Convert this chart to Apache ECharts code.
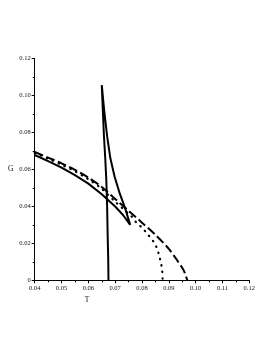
<!DOCTYPE html>
<html><head><meta charset="utf-8">
<script src="https://cdn.jsdelivr.net/npm/echarts@6/dist/echarts.min.js"></script>
<style>html,body{margin:0;padding:0;background:#fff}#c{width:273px;height:353px}</style>
</head><body><div id="c"></div>
<script>
// Solid curve (swallowtail): lower branch -> cusp -> upper branch -> near-vertical branch
const solidT = [0.0400,0.0450,0.0500,0.0550,0.0600,0.0650,0.0700,0.0730,0.0756,0.0737,0.0717,0.0698,0.0682,0.0670,0.0659,0.0650,0.0654,0.0658,0.0663,0.0667,0.0670,0.0672,0.0674,0.0675];
const solidG = [0.0678,0.0645,0.0610,0.0569,0.0523,0.0466,0.0399,0.0352,0.0300,0.0390,0.0470,0.0560,0.0660,0.0780,0.0920,0.1056,0.0920,0.0785,0.0660,0.0542,0.0400,0.0245,0.0120,0.0000];
// Dotted curve
const dotT = [0.0400,0.0450,0.0500,0.0550,0.0600,0.0650,0.0700,0.0762,0.0780,0.0799,0.0815,0.0833,0.0846,0.0857,0.0865,0.0871,0.0875,0.0877];
const dotG = [0.0690,0.0658,0.0625,0.0590,0.0547,0.0495,0.0425,0.0344,0.0311,0.0286,0.0260,0.0227,0.0203,0.0168,0.0128,0.0092,0.0056,0.0000];
// Dashed curve
const dashT = [0.0400,0.0450,0.0500,0.0550,0.0600,0.0650,0.0700,0.0755,0.0800,0.0850,0.0900,0.0935,0.0955,0.0969];
const dashG = [0.0694,0.0664,0.0633,0.0598,0.0556,0.0505,0.0440,0.0370,0.0312,0.0246,0.0170,0.0100,0.0055,0.0000];
const xTicks = {min:0.04, max:0.12, interval:0.01};
const yTicks = {min:0, max:0.12, interval:0.02};

const zip = (a,b)=>a.map((v,i)=>[v,b[i]]);
const font = 'Liberation Serif';
const chart = echarts.init(document.getElementById('c'), null, {renderer:'canvas'});
const axisCommon = {
  axisLine:{show:true,onZero:false,lineStyle:{color:'#000',width:1}},
  axisTick:{show:true,length:3,lineStyle:{color:'#000',width:1}},
  minorTick:{show:true,splitNumber:2,length:2,lineStyle:{color:'#000',width:1}},
  splitLine:{show:false},
  axisLabel:{color:'#111',fontFamily:font,fontSize:6.5,margin:4,
    formatter:v=>v===0?'0':v.toFixed(2)}
};
chart.setOption({
  animation:false,
  backgroundColor:'#fff',
  grid:{left:34.7,right:23.7,top:58.5,bottom:72.7,containLabel:false},
  xAxis:Object.assign({type:'value',min:xTicks.min,max:xTicks.max,interval:xTicks.interval,
    name:'T',nameLocation:'middle',nameGap:15,
    nameTextStyle:{color:'#111',fontFamily:font,fontSize:7.5,padding:[0,110,0,0]}},axisCommon),
  yAxis:Object.assign({type:'value',min:yTicks.min,max:yTicks.max,interval:yTicks.interval,
    name:'G',nameLocation:'middle',nameGap:20,nameRotate:0,
    nameTextStyle:{color:'#111',fontFamily:font,fontSize:7.5}},axisCommon),
  series:[
    {type:'line',data:zip(solidT,solidG),showSymbol:false,smooth:false,clip:true,
      lineStyle:{color:'#000',width:2}},
    {type:'line',data:zip(dotT,dotG),showSymbol:false,smooth:0.3,clip:true,
      lineStyle:{color:'#000',width:2.2,type:[0.5,6],cap:'round'}},
    {type:'line',data:zip(dashT,dashG),showSymbol:false,smooth:0.3,clip:true,
      lineStyle:{color:'#000',width:2,type:[9,3.5]}}
  ]
});
</script></body></html>
